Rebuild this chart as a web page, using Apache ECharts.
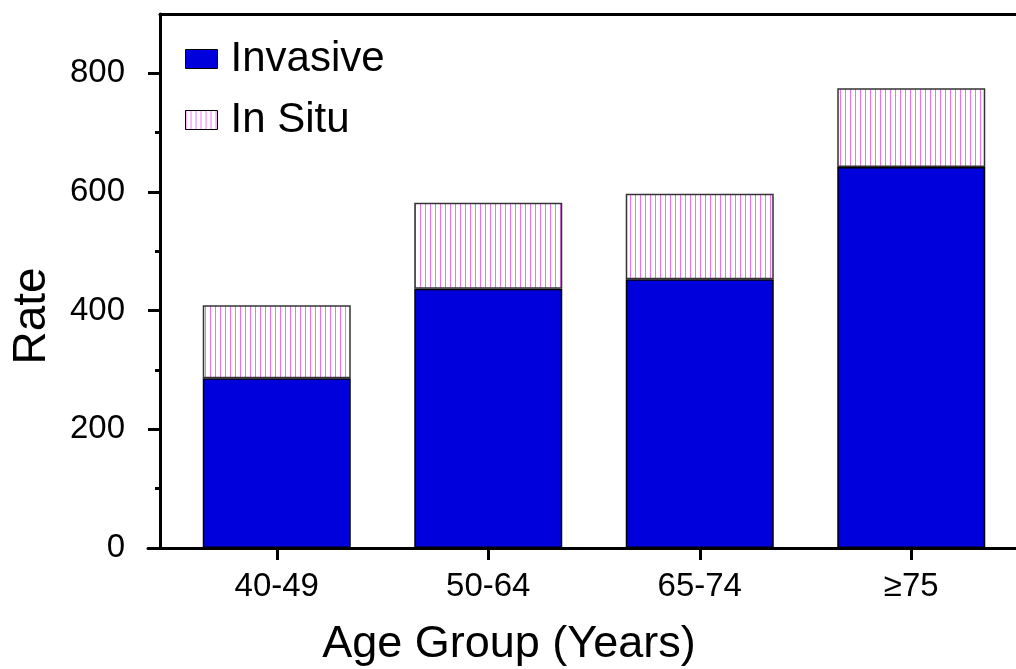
<!DOCTYPE html>
<html>
<head>
<meta charset="utf-8">
<script src="https://cdn.jsdelivr.net/npm/echarts@6/dist/echarts.min.js"></script>
<style>
html,body{margin:0;padding:0;background:#fff;}
#chart{width:1016px;height:669px;}
</style>
</head>
<body>
<div id="chart"></div>
<script>
const categories = ['40-49', '50-64', '65-74', '\u226575'];
const invasive = [286, 437, 453, 642];
const inSitu = [123, 145, 144, 133];
const yTickValues = [0, 200, 400, 600, 800];
const yMinorTickValues = [100, 300, 500, 700];
const seriesNames = ['Invasive', 'In Situ'];

function makeStripes() {
  const c = document.createElement('canvas');
  c.width = 5; c.height = 10;
  const ctx = c.getContext('2d');
  ctx.fillStyle = '#ffffff';
  ctx.fillRect(0, 0, 5, 10);
  ctx.fillStyle = '#f26ef2';
  ctx.fillRect(0, 0, 1, 10);
  return c;
}
const stripe = { image: makeStripes(), repeat: 'repeat' };

const FONT = 'Liberation Sans, Arial, sans-serif';
const chart = echarts.init(document.getElementById('chart'), null, { renderer: 'canvas' });
const axisStroke = { color: '#000', width: 3 };

chart.setOption({
  animation: false,
  backgroundColor: '#fff',
  textStyle: { fontFamily: FONT },
  grid: [
    { left: 171, right: -1, top: 14, bottom: 121, outerBoundsMode: 'none', containLabel: false },
    { left: 148, right: 0, top: 14, bottom: 121, outerBoundsMode: 'none', containLabel: false },
    { left: 160, right: 0, top: 14, bottom: 121, outerBoundsMode: 'none', containLabel: false }
  ],
  legend: {
    orient: 'vertical',
    left: 180,
    top: 33,
    icon: 'rect',
    itemWidth: 32,
    itemHeight: 19,
    itemGap: 19,
    data: [
      { name: seriesNames[0], itemStyle: { color: '#0000dd', borderColor: '#000', borderWidth: 1 } },
      { name: seriesNames[1], itemStyle: { color: stripe, borderColor: '#000', borderWidth: 1 } }
    ],
    textStyle: { fontSize: 42, lineHeight: 42, color: '#000', fontFamily: FONT, padding: [0, 0, 0, 8] },
    selectedMode: false
  },
  xAxis: [
    {
      type: 'category', gridIndex: 0, data: categories,
      axisLine: { show: false },
      axisTick: { show: true, alignWithLabel: true, length: 12, lineStyle: axisStroke },
      axisLabel: { margin: 22, fontSize: 33, color: '#000', fontFamily: FONT },
      name: 'Age Group (Years)', nameLocation: 'middle', nameGap: 74,
      nameTextStyle: { fontSize: 45, color: '#000', fontFamily: FONT, padding: [0, 170, 0, 0] }
    },
    {
      type: 'value', gridIndex: 1, min: 0, max: 1,
      axisLine: { show: true, onZero: false, lineStyle: axisStroke },
      axisTick: { show: false }, axisLabel: { show: false }, splitLine: { show: false }
    },
    {
      type: 'value', gridIndex: 2, position: 'top', min: 0, max: 1,
      axisLine: { show: true, onZero: false, lineStyle: axisStroke },
      axisTick: { show: false }, axisLabel: { show: false }, splitLine: { show: false }
    }
  ],
  yAxis: [
    { type: 'value', gridIndex: 0, min: 0, max: 900, show: false, splitLine: { show: false } },
    { type: 'value', gridIndex: 1, min: 0, max: 900, show: false, splitLine: { show: false } },
    {
      type: 'value', gridIndex: 2, min: 0, max: 900, interval: 100,
      axisLine: { show: true, onZero: false, lineStyle: axisStroke },
      axisTick: { show: true, length: 12, lineStyle: axisStroke, customValues: yTickValues },
      axisLabel: { margin: 35, fontSize: 33, color: '#000', fontFamily: FONT, customValues: yTickValues },
      splitLine: { show: false },
      name: 'Rate', nameLocation: 'middle', nameGap: 105, nameRotate: 90,
      nameTextStyle: { fontSize: 46, color: '#000', fontFamily: FONT, padding: [0, 70, 0, 0] }
    },
    {
      type: 'value', gridIndex: 2, min: 0, max: 900, interval: 100, position: 'left',
      axisLine: { show: false, onZero: false },
      axisTick: { show: true, length: 5, lineStyle: axisStroke, customValues: yMinorTickValues },
      axisLabel: { show: false },
      splitLine: { show: false }
    }
  ],
  series: [
    {
      name: seriesNames[0], type: 'bar', stack: 'total', xAxisIndex: 0, yAxisIndex: 0,
      barWidth: 148, data: invasive,
      itemStyle: { color: '#0000dd', borderColor: '#000', borderWidth: 1.5 }
    },
    {
      name: seriesNames[1], type: 'bar', stack: 'total', xAxisIndex: 0, yAxisIndex: 0,
      barWidth: 148, data: inSitu,
      itemStyle: { color: stripe, borderColor: '#333', borderWidth: 1.5 }
    }
  ]
});
</script>
</body>
</html>
